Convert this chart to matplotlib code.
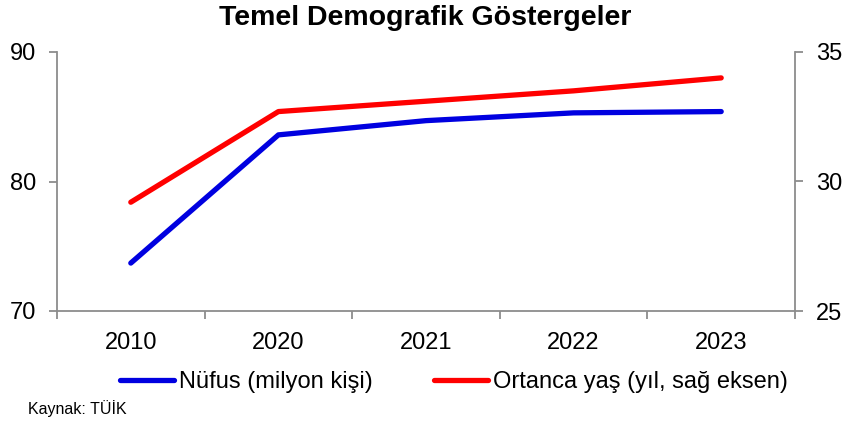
import matplotlib
matplotlib.use("Agg")
import matplotlib.pyplot as plt
from matplotlib.lines import Line2D

plt.rcParams['font.family'] = ['Liberation Sans', 'DejaVu Sans']

years = ["2010", "2020", "2021", "2022", "2023"]
nufus = [73.7, 83.6, 84.7, 85.3, 85.4]
ortanca_yas = [29.2, 32.7, 33.1, 33.5, 34.0]

fig = plt.figure(figsize=(8.45, 4.22), dpi=100)
ax = fig.add_axes([57/845, 1-311/422, (795-57)/845, (311-52)/422])
ax2 = ax.twinx()

x = list(range(len(years)))
l1, = ax.plot(x, nufus, color='#0000e0', lw=3.8, solid_capstyle='round')
l2, = ax2.plot(x, ortanca_yas, color='#ff0000', lw=3.8, solid_capstyle='round')

ax.set_xlim(-0.5, len(years) - 0.5)
ax.set_ylim(70, 90)
ax.set_yticks([70, 80, 90])
ax2.set_ylim(25, 35)
ax2.set_yticks([25, 30, 35])

gray = '#8c8c8c'
for a in (ax, ax2):
    a.spines['top'].set_visible(False)
    for s in ('left', 'right', 'bottom'):
        a.spines[s].set_color(gray)
        a.spines[s].set_linewidth(1.3)
    a.tick_params(axis='y', colors=gray, labelcolor='black', labelsize=17,
                  length=6, width=1.3, direction='out', pad=9)
ax.spines['right'].set_visible(False)
ax2.spines['left'].set_visible(False)
ax2.spines['bottom'].set_visible(False)

ax.set_xticks([i - 0.5 for i in range(len(years) + 1)], minor=False)
ax.set_xticklabels([])
ax.set_xticks(x, minor=True)
ax.set_xticklabels(years, minor=True)
ax.tick_params(axis='x', which='major', colors=gray, length=6, width=1.3, direction='out')
ax.tick_params(axis='x', which='minor', length=0, labelsize=17, labelcolor='black', pad=15)

fig.text(0.503, 1-18/422, "Temel Demografik Göstergeler", ha='center', va='center',
         fontsize=20.5, fontweight='bold')

handles = [Line2D([], [], color='#0000e0', lw=3.8, solid_capstyle='round'),
           Line2D([], [], color='#ff0000', lw=3.8, solid_capstyle='round')]
fig.legend(handles, ["Nüfus (milyon kişi)", "Ortanca yaş (yıl, sağ eksen)"],
           loc='center', bbox_to_anchor=(0.537, 1-382/422), ncol=2, frameon=False,
           fontsize=17, handlelength=2.3, handletextpad=0.2, columnspacing=2.6)

fig.text(28/845, 1-409/422, "Kaynak: TÜİK", ha='left', va='center', fontsize=11.5)

fig.savefig("out.png", dpi=100, facecolor='white')
